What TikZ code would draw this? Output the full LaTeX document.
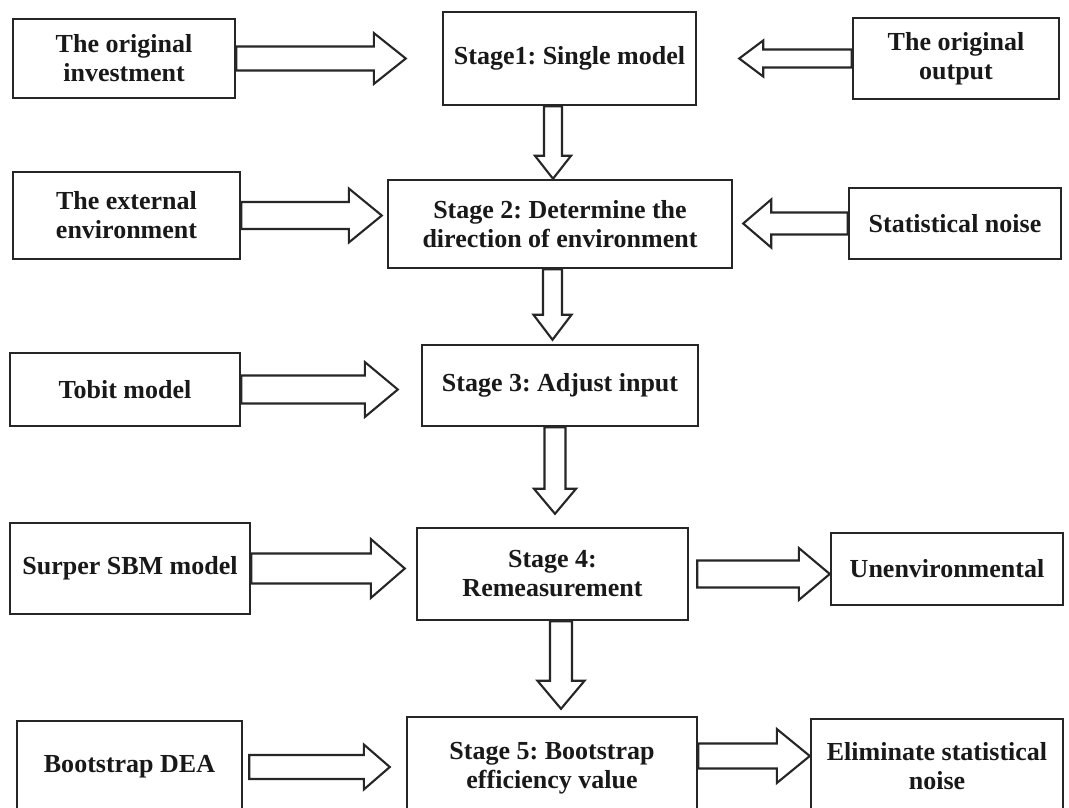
\documentclass[tikz,border=0pt]{standalone}
\usepackage{fontspec}
\setmainfont{Liberation Serif}
\usetikzlibrary{calc, positioning}
\frenchspacing
\tikzstyle{block} = [rectangle, draw=black!85, line width=1.4pt, fill=white, align=center, text=black!90, font=\bfseries\fontsize{14.8}{16.5}\selectfont, inner sep=2pt]
\tikzset{
  fatarrow/.style args={#1/#2/#3}{draw=black!85, line width=1.2pt, fill=white, line join=miter,
    to path={let \p1=(\tikztostart), \p2=(\tikztotarget), \p3=($(\p2)!#3!(\p1)$) in
      ($(\p1)!#1!90:(\p2)$) -- ($(\p3)!#1!90:(\p2)$) -- ($(\p3)!#2!90:(\p2)$) -- (\p2)
      -- ($(\p3)!#2!-90:(\p2)$) -- ($(\p3)!#1!-90:(\p2)$) -- ($(\p1)!#1!-90:(\p2)$) -- cycle}},
  fatarrow/.default={0.26cm/0.53cm/0.64cm}
}

\begin{document}
\begin{tikzpicture}[x=0.02cm, y=-0.02cm]
    \useasboundingbox[fill=white] (0,0) rectangle (1069,808);

    \node (inv) [block, minimum width=4.44cm, minimum height=1.58cm] at (124,58.5) {The original\\investment};
    \node (stage1) [block, minimum width=5.06cm, minimum height=1.86cm] at (569.5,58.5) {Stage1: Single model};
    \node (out) [block, minimum width=4.12cm, minimum height=1.62cm] at (956,58.5) {The original\\output};

    \node (ext) [block, minimum width=4.54cm, minimum height=1.74cm] at (126.5,215.5) {The external\\environment};
    \node (stage2) [block, minimum width=6.88cm, minimum height=1.76cm] at (560,224) {Stage 2: Determine the\\direction of environment};
    \node (noise) [block, minimum width=4.24cm, minimum height=1.42cm] at (955,223.5) {Statistical noise};

    \node (tobit) [block, minimum width=4.6cm, minimum height=1.46cm] at (125,389.5) {Tobit model};
    \node (stage3) [block, minimum width=5.52cm, minimum height=1.62cm] at (560,385.5) {Stage 3: Adjust input};

    \node (sbm) [block, minimum width=4.8cm, minimum height=1.82cm] at (130,568.5) {Surper SBM model};
    \node (stage4) [block, minimum width=5.42cm, minimum height=1.84cm] at (552.5,574) {Stage 4:\\Remeasurement};
    \node (unenv) [block, minimum width=4.64cm, minimum height=1.44cm] at (947,569) {Unenvironmental};

    \node (boot) [block, minimum width=4.5cm, minimum height=1.84cm] at (129.5,767) {Bootstrap DEA};
    \node (stage5) [block, minimum width=5.8cm, minimum height=2.04cm] at (552,768) {Stage 5: Bootstrap\\efficiency value};
    \node (elim) [block, minimum width=5.04cm, minimum height=1.88cm] at (937,766) {Eliminate statistical\\noise};

    \coordinate (d1) at ($(stage1.south)+(-16.5,0)$);
    \coordinate (d2) at ($(stage2.south)+(-7.5,0)$);
    \coordinate (d3) at ($(stage3.south)+(-5,0)$);
    \coordinate (d4) at ($(stage4.south)+(8.5,0)$);
    \coordinate (u0) at ($(stage4.east)+(8,0)$);
    \coordinate (b0) at ($(boot.east)+(6,0)$);
    \coordinate (e0) at ($(stage5.east)+(0,-12)$);

    \draw [fatarrow=0.24cm/0.51cm/0.64cm] (inv.east) to ($(inv.east -| stage1.west)+(-36,0)$);
    \draw [fatarrow=0.18cm/0.36cm/0.48cm] (out.west) to ($(out.west -| stage1.east)+(42,0)$);
    \draw [fatarrow=0.27cm/0.54cm/0.66cm] (ext.east) to ($(ext.east -| stage2.west)+(-5,0)$);
    \draw [fatarrow=0.22cm/0.48cm/0.56cm] (noise.west) to ($(noise.west -| stage2.east)+(10,0)$);
    \draw [fatarrow=0.28cm/0.55cm/0.66cm] (tobit.east) to ($(tobit.east -| stage3.west)+(-23,0)$);
    \draw [fatarrow=0.30cm/0.59cm/0.68cm] (sbm.east) to ($(sbm.east -| stage4.west)+(-11,0)$);
    \draw [fatarrow=0.27cm/0.52cm/0.62cm] (u0) to (u0 -| unenv.west);
    \draw [fatarrow=0.24cm/0.45cm/0.52cm] (b0) to ($(b0 -| stage5.west)+(-16,0)$);
    \draw [fatarrow=0.25cm/0.54cm/0.66cm] (e0) to (e0 -| elim.west);

    \draw [fatarrow=0.18cm/0.36cm/0.46cm] (d1) to (d1 |- stage2.north);
    \draw [fatarrow=0.19cm/0.38cm/0.50cm] (d2) to ($(d2 |- stage3.north)+(0,-4)$);
    \draw [fatarrow=0.21cm/0.42cm/0.50cm] (d3) to ($(d3 |- stage4.north)+(0,-13)$);
    \draw [fatarrow=0.22cm/0.47cm/0.56cm] (d4) to ($(d4 |- stage5.north)+(0,-7)$);

\end{tikzpicture}
\end{document}
